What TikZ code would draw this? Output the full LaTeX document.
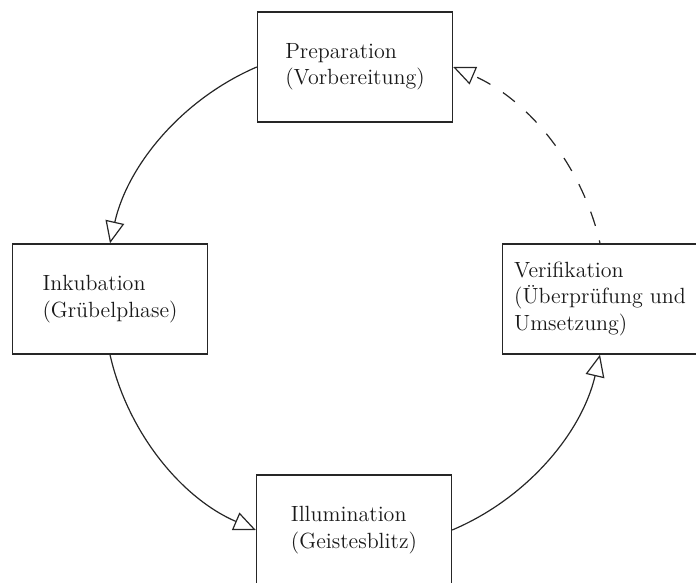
\documentclass[tikz,border=0pt]{standalone}
\usepackage{fontspec}
\usepackage{tikz}
\usetikzlibrary{arrows.meta,positioning}

\begin{document}
\begin{tikzpicture}[x=0.5pt, y=-0.5pt, >={Triangle[open,length=11pt,width=9.5pt]}, line width=0.6pt]
\tikzstyle{phase}=[draw=black!85, rectangle, line width=0.7pt, minimum width=97.5pt, minimum height=55pt, align=left, text=black!90, font=\fontsize{11}{13.2}\selectfont]
\tikzstyle{every edge}=[draw=black!85, bend right=27, looseness=0.9]
\useasboundingbox (0,0) rectangle (696,583);
\clip (0,0) rectangle (696,583);
\node[phase] (prep) at (355,67)  {Preparation\\(Vorbereitung)};
\node[phase] (inku) at (110,299) {Inkubation\\(Grübelphase)};
\node[phase] (illu) at (354,530) {Illumination\\(Geistesblitz)};
\node[phase] (veri) at (600,299) {Verifikation\\(Überprüfung und\\Umsetzung)};
\path[->]
(prep.west)  edge (inku.north)
(inku.south) edge (illu.west)
(illu.east)  edge (veri.south)
(veri.north) edge[dash pattern=on 7.5pt off 7.5pt, dash phase=6pt] (prep.east);
\end{tikzpicture}
\end{document}
